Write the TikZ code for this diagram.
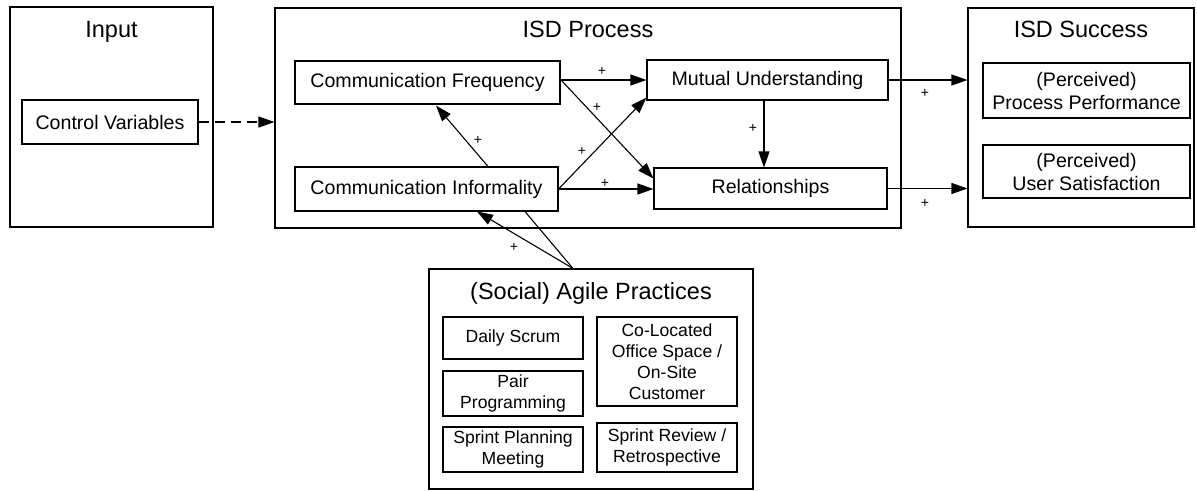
\documentclass[tikz,border=0pt]{standalone}
\usepackage{fontspec}
\setmainfont{Liberation Sans}
\usetikzlibrary{arrows.meta, positioning, calc}

\begin{document}
\begin{tikzpicture}[x=1pt, y=-1pt, line width=1.1pt,
  group/.style={draw, rectangle, inner sep=0pt},
  box/.style={draw, rectangle, inner sep=0pt, align=center, font=\fontsize{19.6}{23}\selectfont},
  practice/.style={box, font=\fontsize{17.6}{21}\selectfont},
  grouptitle/.style={anchor=base, font=\fontsize{23.5}{28}\selectfont},
  plus/.style={inner sep=0pt, font=\fontsize{14}{14}\selectfont},
  link/.style={-{Triangle[length=16pt,width=11pt]}}]
  \useasboundingbox (0,0) rectangle (1197,491);

  % outer groups
  \node[group, minimum width=203pt, minimum height=220pt] (input) at (111.5,117) {};
  \node[group, minimum width=626pt, minimum height=220pt] (process) at (588,118) {};
  \node[group, minimum width=226pt, minimum height=219pt] (success) at (1081,117.5) {};
  \node[group, minimum width=324pt, minimum height=220pt] (agile) at (591,379) {};
  \node[grouptitle] (input-title) at (111.5,37) {Input};
  \node[grouptitle] (process-title) at (588,37) {ISD Process};
  \node[grouptitle] (success-title) at (1081,37) {ISD Success};
  \node[grouptitle] (agile-title) at (591,299) {(Social) Agile Practices};

  % constructs
  \node[box, minimum width=176pt, minimum height=44pt] (ctrl) at (110,122) {Control Variables};
  \node[box, minimum width=265pt, minimum height=43pt] (freq) at (427.5,82.5) {Communication Frequency};
  \node[box, minimum width=263pt, minimum height=44pt] (inform) at (426.5,189) {Communication Informality};
  \node[box, minimum width=241pt, minimum height=40pt] (mutual) at (767.5,80) {Mutual Understanding};
  \node[box, minimum width=233pt, minimum height=41pt] (rel) at (770.5,188.5) {Relationships};
  \node[box, minimum width=207pt, minimum height=55pt] (perf) at (1086.5,90.5) {(Perceived)\\Process Performance};
  \node[box, minimum width=207pt, minimum height=53pt] (satis) at (1086.5,171.5) {(Perceived)\\User Satisfaction};

  % agile practices
  \node[practice, minimum width=140pt, minimum height=42pt] (daily) at (513,338) {Daily Scrum};
  \node[practice, minimum width=140pt, minimum height=45pt] (pair) at (513,393.5) {Pair\\Programming};
  \node[practice, minimum width=140pt, minimum height=45pt] (planning) at (513,449.5) {Sprint Planning\\Meeting};
  \node[practice, minimum width=140pt, minimum height=89pt] (coloc) at (667,361.5) {Co-Located\\Office Space /\\On-Site\\Customer};
  \node[practice, minimum width=140pt, minimum height=49pt] (review) at (667,447.5) {Sprint Review /\\Retrospective};

  % paths
  \coordinate (mu-foot) at ($(mutual.south)+(-3.5,0)$);
  \coordinate (agile-top) at ($(agile.north)+(-18,0)$);
  \draw[link, dash pattern=on 10pt off 6pt] (ctrl.east) -- (ctrl.east -| process.west);
  \draw[link] (freq.east |- mutual.west) -- (mutual.west);
  \draw[link] ($(freq.east)+(0,-3)$) -- ($(rel.west)+(0,-10)$);
  \draw[link] (inform.east) -- ($(mutual.south west)+(0,-3)$);
  \draw[link] (inform.east) -- (inform.east -| rel.west);
  \draw[link] (mu-foot) -- (mu-foot |- rel.north);
  \draw[link] ($(inform.north)+(61.5,0)$) -- ($(freq.south)+(8.5,1)$);
  \draw[link] (agile-top) -- ($(inform.south)+(50.5,0)$);
  \draw (agile-top) -- ($(inform.south)+(98.5,0)$);
  \draw[link] (mutual.east) -- (mutual.east -| success.west);
  \draw[link] (rel.east) -- (rel.east -| success.west);

  % signs
  \node[plus] (p-fm) at (602,71) {+};
  \node[plus] (p-fr) at (597,107) {+};
  \node[plus] (p-im) at (582,151) {+};
  \node[plus] (p-ir) at (605,183) {+};
  \node[plus] (p-mr) at (753,128) {+};
  \node[plus] (p-if) at (478,140) {+};
  \node[plus] (p-ai) at (514,247) {+};
  \node[plus] (p-mp) at (925,93) {+};
  \node[plus] (p-rs) at (925,203) {+};
\end{tikzpicture}
\end{document}
